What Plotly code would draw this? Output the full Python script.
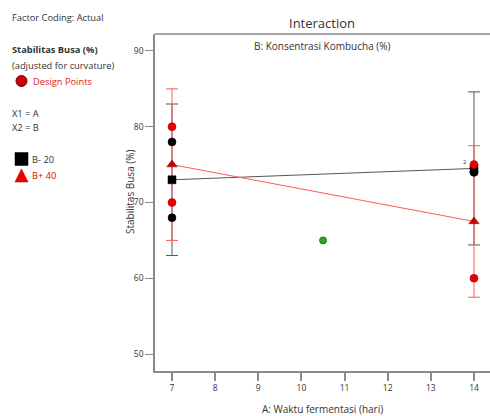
import plotly.graph_objects as go

# ---- data ----
factor_a_levels = [7, 14]
mean_b_minus = [73.0, 74.5]
mean_b_plus = [75.0, 67.5]
ci_b_minus = [10.0, 10.1]
ci_b_plus = [10.0, 10.0]

design_black_x = [7, 7, 14, 14]
design_black_y = [78, 68, 74, 74]
design_red_x = [7, 7, 14, 14]
design_red_y = [80, 70, 75, 60]
center_x = [10.5]
center_y = [65]

x_ticks = [7, 8, 9, 10, 11, 12, 13, 14]
y_ticks = [50, 60, 70, 80, 90]

W, H = 490, 416
L, T, PW, PH = 155, 34, 335, 337
FONT = "Open Sans"
TXT = "#333333"
AX = "#8a8a8a"


def px(x):
    return (x - L) / PW


def py(y):
    return (T + PH - y) / PH


fig = go.Figure()

# B- 20 means with error bars
fig.add_trace(go.Scatter(
    x=factor_a_levels, y=mean_b_minus, mode="lines",
    line=dict(color="#555555", width=1),
    error_y=dict(type="data", array=ci_b_minus, color="#555555", thickness=1, width=6),
    hoverinfo="skip", showlegend=False))
# B+ 40 means with error bars
fig.add_trace(go.Scatter(
    x=factor_a_levels, y=mean_b_plus, mode="lines",
    line=dict(color="#ff5a5a", width=1),
    error_y=dict(type="data", array=ci_b_plus, color="#ff5a5a", thickness=1, width=6),
    hoverinfo="skip", showlegend=False))
# mean markers
fig.add_trace(go.Scatter(
    x=factor_a_levels, y=mean_b_minus, mode="markers",
    marker=dict(symbol="square", size=8, color="black", line=dict(color="black", width=0.5)),
    showlegend=False))
fig.add_trace(go.Scatter(
    x=factor_a_levels, y=mean_b_plus, mode="markers",
    marker=dict(symbol="triangle-up", size=9, color="#cc0000", line=dict(color="#880000", width=0.5)),
    showlegend=False))
# design points
fig.add_trace(go.Scatter(
    x=design_black_x, y=design_black_y, mode="markers",
    marker=dict(symbol="circle", size=8, color="black", line=dict(color="black", width=0.5)),
    showlegend=False))
fig.add_trace(go.Scatter(
    x=design_red_x, y=design_red_y, mode="markers",
    marker=dict(symbol="circle", size=8, color="#ee0000", line=dict(color="#990000", width=0.5)),
    showlegend=False))
fig.add_trace(go.Scatter(
    x=center_x, y=center_y, mode="markers",
    marker=dict(symbol="circle", size=7, color="#22aa22", line=dict(color="#115511", width=0.7)),
    showlegend=False))

annotations = []


def txt(x, y, text, size=9.3, color=TXT, xanchor="left", bold=False, angle=0):
    annotations.append(dict(
        x=px(x), y=py(y), xref="paper", yref="paper", showarrow=False,
        text=("<b>%s</b>" % text) if bold else text, xanchor=xanchor, yanchor="middle",
        textangle=angle, font=dict(family=FONT, size=size, color=color)))


txt(10, 18, "Factor Coding: Actual")
txt(10, 50, "Stabilitas Busa (%)", bold=True)
txt(10, 66, "(adjusted for curvature)")
txt(31, 81, "Design Points", color="#dd2222")
txt(10, 113, "X1 = A")
txt(10, 128, "X2 = B")
txt(30, 159, "B- 20")
txt(30, 175, "B+ 40", color="#ee0000")
txt(322, 23, "Interaction", size=13, xanchor="center")
txt(322, 46, "B: Konsentrasi Kombucha (%)", size=10, xanchor="center")
txt(130, 192, "Stabilitas Busa (%)", size=10, xanchor="center", angle=-90)
txt(322, 409, "A: Waktu fermentasi (hari)", size=10, xanchor="center")
annotations.append(dict(x=14, y=75.3, xref="x", yref="y", xshift=-9, showarrow=False,
                        text="2", font=dict(family=FONT, size=6, color=TXT)))

shapes = [
    # top border line
    dict(type="line", xref="paper", yref="paper", x0=0, x1=1.05, y0=1, y1=1,
         line=dict(color=AX, width=1.5)),
    # legend symbols
    dict(type="circle", xref="paper", yref="paper", x0=px(16), x1=px(27), y0=py(75.5), y1=py(86.5),
         fillcolor="#cc0000", line=dict(color="#770000", width=1)),
    dict(type="rect", xref="paper", yref="paper", x0=px(15), x1=px(28), y0=py(152.5), y1=py(165.5),
         fillcolor="black", line=dict(color="black", width=0.5)),
    dict(type="path", xref="paper", yref="paper",
         path="M %f %f L %f %f L %f %f Z" % (px(15), py(182), px(28), py(182), px(21.5), py(169)),
         fillcolor="#ee0000", line=dict(color="#990000", width=0.5)),
]

fig.update_layout(
    width=W, height=H,
    margin=dict(l=L, r=W - L - PW, t=T, b=H - T - PH),
    plot_bgcolor="white", paper_bgcolor="white",
    showlegend=False,
    annotations=annotations, shapes=shapes,
    font=dict(family=FONT, color=TXT),
    xaxis=dict(range=[6.606, 14.371], tickvals=x_ticks, ticks="outside", ticklen=8,
               tickcolor=AX, tickwidth=1.5, showline=True, linecolor=AX, linewidth=1.5,
               showgrid=False, zeroline=False, tickfont=dict(family=FONT, size=8.5, color=TXT)),
    yaxis=dict(range=[47.76, 92.24], tickvals=y_ticks, ticks="outside", ticklen=8,
               tickcolor=AX, tickwidth=1, showline=True, linecolor=AX, linewidth=1.5,
               showgrid=False, zeroline=False, tickfont=dict(family=FONT, size=8.5, color=TXT)),
)

fig.write_html("out.html", config={"displayModeBar": False},
               post_script="document.body.style.margin='0';document.body.style.overflow='hidden';")
